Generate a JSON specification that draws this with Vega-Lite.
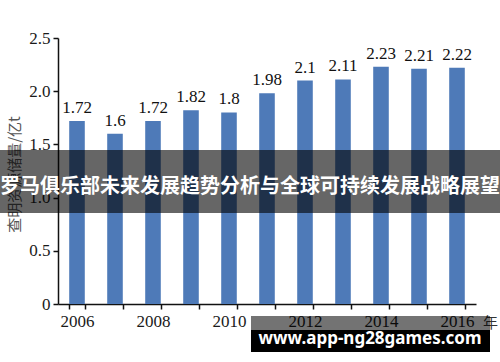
{
  "$schema": "https://vega.github.io/schema/vega-lite/v6.json",
  "width": 418,
  "height": 266,
  "autosize": {"type": "none"},
  "padding": {"left": 58, "top": 38, "right": 24, "bottom": 58},
  "background": "white",
  "config": {"view": {"stroke": null}},
  "data": {
    "values": [
      {"year": "2006", "value": 1.72},
      {"year": "2007", "value": 1.6},
      {"year": "2008", "value": 1.72},
      {"year": "2009", "value": 1.82},
      {"year": "2010", "value": 1.8},
      {"year": "2011", "value": 1.98},
      {"year": "2012", "value": 2.1},
      {"year": "2013", "value": 2.11},
      {"year": "2014", "value": 2.23},
      {"year": "2015", "value": 2.21},
      {"year": "2016", "value": 2.22}
    ]
  },
  "resolve": {"scale": {"x": "independent"}},
  "layer": [
    {
      "encoding": {
        "x": {
          "field": "year",
          "type": "ordinal",
          "scale": {"paddingInner": 0.59, "paddingOuter": 0.295},
          "axis": {
            "title": "年",
            "titleX": 432,
            "titleY": 18,
            "titleAlign": "center",
            "titleBaseline": "middle",
            "titleFont": "Noto Sans CJK SC",
            "titleFontSize": 15,
            "titleFontWeight": "normal",
            "titleColor": "#333",
            "labelAngle": 0,
            "labelExpr": "toNumber(datum.value) % 2 == 0 ? datum.value : ''",
            "labelFont": "Liberation Serif",
            "labelFontSize": 17,
            "labelColor": "#1a1a1a",
            "labelPadding": 4,
            "tickBand": "extent",
            "tickSize": 5,
            "tickColor": "#111",
            "tickWidth": 1.5,
            "domainColor": "#111",
            "domainWidth": 1.5,
            "grid": false
          }
        },
        "y": {
          "field": "value",
          "type": "quantitative",
          "scale": {"domain": [0, 2.5], "nice": false},
          "axis": {
            "title": "查明资源储量/亿t",
            "titleFont": "Noto Sans CJK SC",
            "titleFontSize": 15,
            "titleFontWeight": "normal",
            "titleColor": "#555",
            "titleX": -44,
            "titleY": 136,
            "titleAngle": -90,
            "titleAlign": "center",
            "titleBaseline": "middle",
            "values": [0, 0.5, 1, 1.5, 2, 2.5],
            "labelExpr": "datum.value == 0 ? '0' : format(datum.value, '.1f')",
            "labelFont": "Liberation Serif",
            "labelFontSize": 17,
            "labelColor": "#1a1a1a",
            "labelPadding": 3,
            "tickSize": 5,
            "tickColor": "#111",
            "tickWidth": 1.5,
            "domainColor": "#111",
            "domainWidth": 1.5,
            "grid": false
          }
        }
      },
      "layer": [
        {"mark": {"type": "bar", "color": "#4e7ab8"}},
        {
          "mark": {"type": "text", "dy": -8, "baseline": "alphabetic", "font": "Liberation Serif", "fontSize": 17, "color": "#111"},
          "encoding": {"text": {"field": "value", "type": "nominal"}}
        }
      ]
    },
    {
      "data": {"values": [{}]},
      "mark": {"type": "rect", "color": "#000", "opacity": 0.6, "clip": false},
      "encoding": {
        "x": {"datum": -0.14, "type": "quantitative", "scale": {"domain": [0, 1], "nice": false, "zero": false}, "axis": null},
        "x2": {"datum": 1.06},
        "y": {"datum": 1.447, "type": "quantitative", "scale": {"domain": [0, 2.5], "nice": false}},
        "y2": {"datum": 0.855}
      }
    },
    {
      "data": {"values": [{"t": "罗马俱乐部未来发展趋势分析与全球可持续发展战略展望"}]},
      "mark": {"type": "text", "color": "white", "font": "Noto Sans CJK SC", "fontWeight": "bold", "fontSize": 20, "baseline": "middle", "align": "center", "clip": false},
      "encoding": {
        "x": {"datum": 0.4593, "type": "quantitative", "scale": {"domain": [0, 1], "nice": false, "zero": false}, "axis": null},
        "y": {"datum": 1.1, "type": "quantitative", "scale": {"domain": [0, 2.5], "nice": false}},
        "text": {"field": "t", "type": "nominal"}
      }
    },
    {
      "data": {"values": [{}]},
      "mark": {"type": "rect", "color": "#000", "opacity": 0.55, "clip": false},
      "encoding": {
        "x": {"datum": 0.4617, "type": "quantitative", "scale": {"domain": [0, 1], "nice": false, "zero": false}, "axis": null},
        "x2": {"datum": 1.0335},
        "y": {"datum": -0.113, "type": "quantitative", "scale": {"domain": [0, 2.5], "nice": false}},
        "y2": {"datum": -0.244}
      }
    },
    {
      "data": {"values": [{}]},
      "mark": {"type": "rect", "color": "#000", "opacity": 1, "clip": false},
      "encoding": {
        "x": {"datum": 0.4617, "type": "quantitative", "scale": {"domain": [0, 1], "nice": false, "zero": false}, "axis": null},
        "x2": {"datum": 1.0335},
        "y": {"datum": -0.244, "type": "quantitative", "scale": {"domain": [0, 2.5], "nice": false}},
        "y2": {"datum": -0.451}
      }
    },
    {
      "data": {"values": [{"t": "www.app-ng28games.com"}]},
      "mark": {"type": "text", "color": "white", "font": "Noto Sans", "fontWeight": "bold", "fontSize": 17, "baseline": "middle", "align": "center", "clip": false},
      "encoding": {
        "x": {"datum": 0.7464, "type": "quantitative", "scale": {"domain": [0, 1], "nice": false, "zero": false}, "axis": null},
        "y": {"datum": -0.33, "type": "quantitative", "scale": {"domain": [0, 2.5], "nice": false}},
        "text": {"field": "t", "type": "nominal"}
      }
    }
  ]
}
